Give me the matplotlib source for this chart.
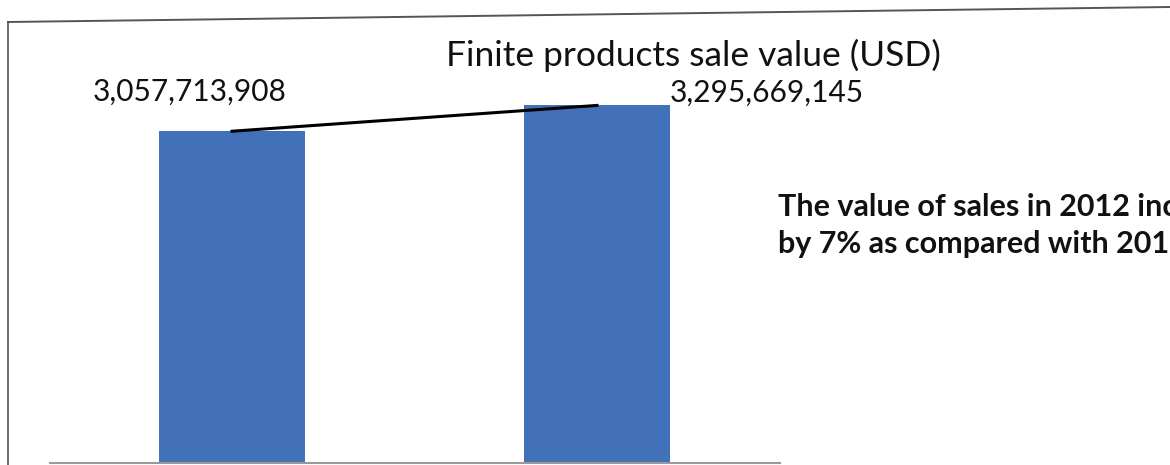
import matplotlib.pyplot as plt
from matplotlib.lines import Line2D

# data
years = ['2011', '2012']
sale_value = [3057713908, 3295669145]
value_labels = ['3,057,713,908', '3,295,669,145']
title = 'Finite products sale value (USD)'
note_lines = ['The value of sales in 2012 increased', 'by 7% as compared with 2011']

W, H = 1170, 465
fig = plt.figure(figsize=(W / 100, H / 100), dpi=100)
fig.patch.set_facecolor('white')

# outer chart frame (scanned, slightly tilted top edge)
fig.add_artist(Line2D([8 / W, 8 / W], [1 - 22 / H, 0], color='#555555', lw=1.2))
fig.add_artist(Line2D([8 / W, 1.0], [1 - 22 / H, 1 - 7 / H], color='#555555', lw=1.4))

# plot area: x 50..780 px, y 22..463 px
ax = fig.add_axes([50 / W, (H - 463) / H, 730 / W, 441 / H])
x = [0, 1]
px_per_unit = 365
ax.set_xlim(-(232 - 50) / px_per_unit, (780 - 232) / px_per_unit)
ax.set_ylim(0, 441 / 108.5 * 1e9)

ax.bar(x, sale_value, width=0.4, color='#4271b9', zorder=2)
ax.plot(x, sale_value, color='black', lw=2.2, zorder=3)

for sp in ['top', 'right', 'left']:
    ax.spines[sp].set_visible(False)
ax.spines['bottom'].set_color('#9a9a9a')
ax.spines['bottom'].set_linewidth(1.5)
ax.set_xticks([])
ax.set_yticks([])
ax.patch.set_alpha(0)

font = 'Lato'
ax.annotate(value_labels[0], (x[0], sale_value[0]), xytext=(-42, 39),
            textcoords='offset pixels', ha='center', va='center',
            fontsize=21.5, family=font, color='#111111')
ax.annotate(value_labels[1], (x[1], sale_value[1]), xytext=(170, 13),
            textcoords='offset pixels', ha='center', va='center',
            fontsize=21.5, family=font, color='#111111')

fig.text(693 / W, 1 - 55 / H, title, ha='center', va='center',
         fontsize=25.5, family=font, color='#111111')
for i, line in enumerate(note_lines):
    fig.text(778 / W, 1 - (207 + 37 * i) / H, line, ha='left', va='center',
             fontsize=22, family=font, fontweight='bold', color='#111111')

fig.savefig('out.png', dpi=100)
